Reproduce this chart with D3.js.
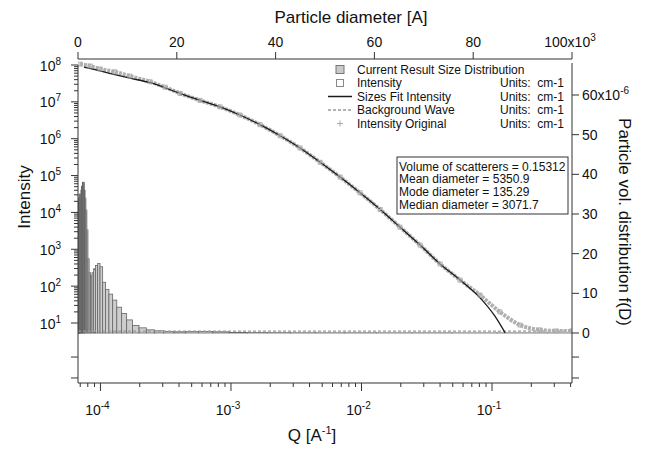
<!DOCTYPE html>
<html>
<head>
<meta charset="utf-8">
<script src="https://cdn.jsdelivr.net/npm/d3@7"></script>
<style>
body { margin: 0; background: #fff; }
text { font-family: "Liberation Sans", Arial, sans-serif; fill: #111; }
</style>
</head>
<body>
<svg width="646" height="449"></svg>
<script>
// scattering data, Q in A^-1, intensity in cm-1
let qInt = [6.97e-5, 8.32e-5, 9.93e-5, 1.29e-4, 1.68e-4, 2.40e-4, 3.13e-4, 4.07e-4, 5.79e-4, 8.24e-4,
            1.17e-3, 1.67e-3, 2.38e-3, 3.38e-3, 4.82e-3, 6.86e-3, 9.75e-3, 1.39e-2, 1.97e-2, 2.81e-2,
            4.00e-2, 5.69e-2, 8.10e-2, 0.115, 0.164, 0.233, 0.310, 0.410];
let iInt = [1.06e8, 9.4e7, 7.8e7, 6.5e7, 5.0e7, 3.5e7, 2.5e7, 1.7e7, 1.1e7, 7.3e6,
            4.4e6, 2.4e6, 1.2e6, 5.6e5, 2.3e5, 9.1e4, 3.4e4, 1.2e4, 4.0e3, 1.3e3,
            400, 147, 57, 20, 8.8, 6.5, 6.1, 6.1];
let qFit = [7.48e-5, 9.93e-5, 1.68e-4, 2.40e-4, 4.07e-4, 5.79e-4, 8.24e-4, 1.17e-3, 1.67e-3, 2.38e-3,
            3.38e-3, 4.82e-3, 6.86e-3, 9.75e-3, 1.39e-2, 1.97e-2, 2.81e-2, 4.00e-2, 5.69e-2, 8.10e-2,
            0.105, 0.126];
let iFit = [8.8e7, 6.9e7, 4.4e7, 3.3e7, 1.7e7, 1.1e7, 7.3e6, 4.4e6, 2.4e6, 1.2e6,
            5.6e5, 2.3e5, 9.1e4, 3.4e4, 1.2e4, 4.0e3, 1.3e3, 400, 147, 48,
            15.5, 5.4];
let background = 6.0;

// size distribution, diameter in A, volume fraction in 1e-6
let diam = [100, 112, 125, 140, 157, 176, 197, 221, 248, 277, 311, 348, 390, 436, 489, 547, 613, 687, 769, 861,
            965, 1080, 1210, 1355, 1518, 1700, 1904, 2133, 2389, 2675, 2997, 3356, 3759, 4210, 4715, 5281, 5915, 6625,
            7420, 8310, 9307, 10424, 11675, 13076, 14645, 16403, 18371, 20576, 23045, 25810, 28908, 32377, 36262,
            40613, 45487, 50945, 57059, 63906, 71574, 80163, 89783, 100557];
let vol = [29, 31, 33, 30, 34, 31, 33, 35, 32, 34, 33, 35, 34, 33, 35, 34, 36, 35, 37, 36,
           38, 37.5, 38, 36, 34, 31, 26, 18.7, 15.2, 14.4, 15.2, 16.2, 17.0, 17.5, 16.7, 12.8, 11.0, 9.8,
           8.3, 6.5, 4.9, 3.3, 1.9, 1.3, 0.8, 0.55, 0.35, 0.3, 0.35, 0.4, 0.3, 0.15, 0.1,
           0.08, 0.06, 0.05, 0.05, 0.04, 0.04, 0.03, 0.03, 0.03];

let topTicks = [0, 20000, 40000, 60000, 80000, 100000];
let topLabels = ["0", "20", "40", "60", "80", "100x10"];
let rightTicks = [0, 10, 20, 30, 40, 50, 60];
let qDecades = [1e-4, 1e-3, 1e-2, 1e-1];
let qExp = ["-4", "-3", "-2", "-1"];
let iDecades = [10, 100, 1e3, 1e4, 1e5, 1e6, 1e7, 1e8];
let iExp = ["1", "2", "3", "4", "5", "6", "7", "8"];
let resTicks = [-1, 0];

let legendNames = ["Current Result Size Distribution", "Intensity", "Sizes Fit Intensity", "Background Wave", "Intensity Original"];
let legendUnits = ["", "Units:  cm-1", "Units:  cm-1", "Units:  cm-1", "Units:  cm-1"];
let stats = ["Volume of scatterers = 0.15312", "Mean diameter = 5350.9", "Mode diameter = 135.29", "Median diameter = 3071.7"];

let svg = d3.select("svg");
let L = 78, R = 572, T = 59, B = 383, mid = 334;

let x = d3.scaleLog().domain([6.73e-5, 0.41]).range([L, R]);
let y = d3.scaleLog().domain([5.03, 1e8]).range([mid, 65]);
let xD = d3.scaleLinear().domain([0, 100000]).range([L, R]);
let yV = d3.scaleLinear().domain([0, 60]).range([333, 95]);
let yRes = d3.scaleLinear().domain([-1.24, 1.1]).range([B, mid]);

svg.append("clipPath").attr("id", "plot")
  .append("rect").attr("x", L).attr("y", T).attr("width", R - L).attr("height", mid - T);
let g = svg.append("g").attr("clip-path", "url(#plot)");

// bars of the size distribution
let edges = diam.map((d, i) => {
  let lo = i > 0 ? Math.sqrt(diam[i - 1] * d) : d / Math.sqrt(diam[1] / diam[0]);
  let hi = i < diam.length - 1 ? Math.sqrt(diam[i + 1] * d) : d * Math.sqrt(d / diam[i - 1]);
  return [lo, hi];
});
g.selectAll("rect.bar")
  .data(vol)
  .enter()
  .append("rect")
  .attr("class", "bar")
  .attr("x", (d, i) => xD(edges[i][0]))
  .attr("width", (d, i) => xD(edges[i][1]) - xD(edges[i][0]))
  .attr("y", d => yV(d))
  .attr("height", d => yV(0) - yV(d))
  .attr("fill", "#cdcdcd")
  .attr("stroke", "#666")
  .attr("stroke-width", 0.8);

// background
g.append("line")
  .attr("x1", L).attr("x2", R)
  .attr("y1", y(background)).attr("y2", y(background))
  .attr("stroke", "#999").attr("stroke-width", 1.2).attr("stroke-dasharray", "3,2");

let pts = qInt.map((q, i) => [x(q), y(iInt[i])]);
let fitPts = qFit.map((q, i) => [x(q), y(iFit[i])]);
let line = d3.line().curve(d3.curveMonotoneX);

g.append("path")
  .attr("d", line(pts))
  .attr("fill", "none")
  .attr("stroke", "#b0b0b0")
  .attr("stroke-width", 4)
  .attr("stroke-dasharray", "3,1");

g.append("path")
  .attr("d", line(fitPts))
  .attr("fill", "none")
  .attr("stroke", "#1a1a1a")
  .attr("stroke-width", 1.3);

g.selectAll("rect.pt")
  .data(pts)
  .enter()
  .append("rect")
  .attr("class", "pt")
  .attr("x", d => d[0] - 2).attr("y", d => d[1] - 2)
  .attr("width", 4).attr("height", 4)
  .attr("fill", "none").attr("stroke", "#a8a8a8").attr("stroke-width", 0.8);

g.selectAll("path.plus")
  .data(pts)
  .enter()
  .append("path")
  .attr("class", "plus")
  .attr("d", d => "M" + (d[0] - 2) + "," + d[1] + "h4M" + d[0] + "," + (d[1] - 2) + "v4")
  .attr("stroke", "#b8b8b8").attr("stroke-width", 0.8);

// axes
let ax = svg.append("g").attr("stroke", "#333").attr("stroke-width", 1);
ax.append("line").attr("x1", L).attr("x2", R).attr("y1", T).attr("y2", T);
ax.append("line").attr("x1", L).attr("x2", R).attr("y1", B).attr("y2", B);
ax.append("line").attr("x1", L).attr("x2", L).attr("y1", 65).attr("y2", B);
ax.append("line").attr("x1", R).attr("x2", R).attr("y1", 63).attr("y2", B);

function sup(t, base, exp, size) {
  t.append("tspan").text(base);
  t.append("tspan").attr("dy", -6).attr("font-size", size || 10).text(exp);
}

// top: particle diameter
topTicks.forEach((v, i) => {
  ax.append("line").attr("x1", xD(v)).attr("x2", xD(v)).attr("y1", T).attr("y2", T - 7);
  let t = svg.append("text").attr("x", i == topTicks.length - 1 ? xD(v) - 2 : xD(v))
    .attr("y", 47).attr("text-anchor", "middle").attr("font-size", 14);
  if (i == topTicks.length - 1) sup(t, topLabels[i], "3");
  else t.text(topLabels[i]);
});
svg.append("text").attr("x", 351).attr("y", 23).attr("text-anchor", "middle")
  .attr("font-size", 17).text("Particle diameter [A]");

// bottom: Q
x.ticks().forEach(v => {
  let major = qDecades.some(d => Math.abs(d / v - 1) < 1e-6);
  ax.append("line").attr("x1", x(v)).attr("x2", x(v)).attr("y1", B).attr("y2", B + (major ? 8 : 4));
});
qDecades.forEach((v, i) => {
  let t = svg.append("text").attr("x", x(v) - 3).attr("y", 415)
    .attr("text-anchor", "middle").attr("font-size", 14);
  sup(t, "10", qExp[i]);
});
let qt = svg.append("text").attr("x", 312).attr("y", 441).attr("text-anchor", "middle").attr("font-size", 17);
qt.append("tspan").text("Q [A");
qt.append("tspan").attr("dy", -7).attr("font-size", 11).text("-1");
qt.append("tspan").attr("dy", 7).text("]");

// left: intensity
y.ticks().filter(v => v >= 10).forEach(v => {
  let major = iDecades.some(d => Math.abs(d / v - 1) < 1e-6);
  ax.append("line").attr("x1", L).attr("x2", L - (major ? 7 : 4)).attr("y1", y(v)).attr("y2", y(v));
});
iDecades.forEach((v, i) => {
  let t = svg.append("text").attr("x", 61).attr("y", y(v) + 5.5)
    .attr("text-anchor", "end").attr("font-size", 14);
  sup(t, "10", iExp[i]);
});
resTicks.forEach(v => {
  ax.append("line").attr("x1", L).attr("x2", L - 7).attr("y1", yRes(v)).attr("y2", yRes(v));
  ax.append("line").attr("x1", R).attr("x2", R + 7).attr("y1", yRes(v)).attr("y2", yRes(v));
});
svg.append("text").attr("transform", "translate(30,197) rotate(-90)")
  .attr("text-anchor", "middle").attr("font-size", 17).text("Intensity");

// right: volume distribution
rightTicks.forEach(v => {
  ax.append("line").attr("x1", R).attr("x2", R + 7).attr("y1", yV(v)).attr("y2", yV(v));
  let t = svg.append("text").attr("x", 582).attr("y", yV(v) + 5).attr("font-size", 14);
  if (v == 60) sup(t, "60x10", "-6");
  else t.text(v);
});
svg.append("text").attr("transform", "translate(619,222) rotate(90)")
  .attr("text-anchor", "middle").attr("font-size", 17).text("Particle vol. distribution f(D)");

// legend
let ly = [69.5, 83, 96.5, 110, 123.5];
legendNames.forEach((n, i) => {
  svg.append("text").attr("x", 357).attr("y", ly[i] + 4.3).attr("font-size", 12).text(n);
  svg.append("text").attr("x", 500).attr("y", ly[i] + 4.3).attr("font-size", 12)
    .attr("xml:space", "preserve").text(legendUnits[i]);
});
svg.append("rect").attr("x", 336).attr("y", ly[0] - 4).attr("width", 8).attr("height", 8)
  .attr("fill", "#cacaca").attr("stroke", "#777");
svg.append("rect").attr("x", 336.5).attr("y", ly[1] - 3.5).attr("width", 7).attr("height", 7)
  .attr("fill", "none").attr("stroke", "#888");
svg.append("line").attr("x1", 328).attr("x2", 352).attr("y1", ly[2]).attr("y2", ly[2])
  .attr("stroke", "#1a1a1a").attr("stroke-width", 1.5);
svg.append("line").attr("x1", 328).attr("x2", 352).attr("y1", ly[3]).attr("y2", ly[3])
  .attr("stroke", "#999").attr("stroke-width", 1.3).attr("stroke-dasharray", "3,2");
svg.append("path").attr("d", "M337," + ly[4] + "h6M340," + (ly[4] - 3) + "v6")
  .attr("stroke", "#aaa").attr("stroke-width", 1);

// stats box
svg.append("rect").attr("x", 397).attr("y", 157).attr("width", 171).attr("height", 57)
  .attr("fill", "#fff").attr("stroke", "#333").attr("stroke-width", 1);
stats.forEach((s, i) => {
  svg.append("text").attr("x", 399).attr("y", 170.5 + i * 12.8).attr("font-size", 12).text(s);
});
</script>
</body>
</html>
